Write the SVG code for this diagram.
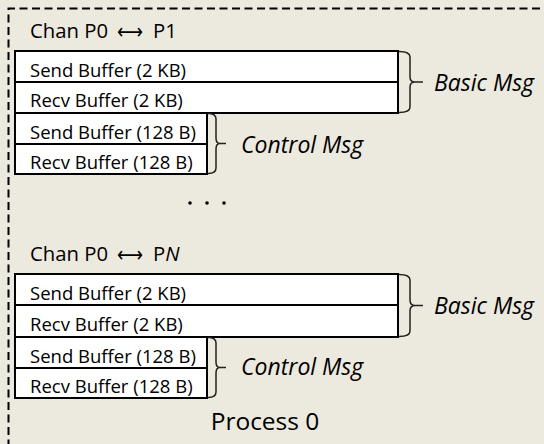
<svg xmlns="http://www.w3.org/2000/svg" width="544" height="444" viewBox="0 0 544 444">
<style>
.bg{fill:#ECE9DF}
.frame{fill:none;stroke:#000;stroke-width:2;stroke-dasharray:8,4.5}
.box{fill:#fff;stroke:#000;stroke-width:2}
.brace{fill:none;stroke:#222;stroke-width:1.5}
text{font-family:"Open Sans","Liberation Sans",sans-serif;fill:#000}
.buf{font-size:18.5px}
.chan{font-size:20.3px}
.arr{font-family:"DejaVu Sans",sans-serif;font-size:22px}
.lbl{font-size:23px;font-style:italic}
.proc{font-size:24.5px}
</style>
<rect x="0" y="0" width="544" height="444" class="bg"/>
<path class="frame" d="M8.5,460 V8.5 H560"/>
<g id="chan1">
<text class="chan" x="30" y="38">Chan P0</text>
<text class="arr" x="117" y="38.5" textLength="26" lengthAdjust="spacingAndGlyphs">⟷</text>
<text class="chan" x="153" y="38">P1</text>
</g>
<g id="basic1">
<rect class="box" x="15" y="51" width="383" height="31"/>
<rect class="box" x="15" y="82" width="383" height="31"/>
<text class="buf" x="30" y="76.5">Send Buffer (2 KB)</text>
<text class="buf" x="30" y="107">Recv Buffer (2 KB)</text>
</g>
<g id="control1">
<rect class="box" x="15" y="113" width="192" height="31"/>
<rect class="box" x="15" y="144" width="192" height="30"/>
<text class="buf" x="30" y="138.5">Send Buffer (128 B)</text>
<text class="buf" x="30" y="168.5">Recv Buffer (128 B)</text>
</g>
<g id="dots">
<circle cx="190" cy="203" r="1.8"/>
<circle cx="207" cy="203" r="1.8"/>
<circle cx="224" cy="203" r="1.8"/>
</g>
<g id="chanN">
<text class="chan" x="30" y="261">Chan P0</text>
<text class="arr" x="117" y="261.5" textLength="26" lengthAdjust="spacingAndGlyphs">⟷</text>
<text class="chan" x="153" y="261">P<tspan font-style="italic">N</tspan></text>
</g>
<g id="basicN">
<rect class="box" x="15" y="274" width="383" height="31"/>
<rect class="box" x="15" y="305" width="383" height="32"/>
<text class="buf" x="30" y="300">Send Buffer (2 KB)</text>
<text class="buf" x="30" y="331">Recv Buffer (2 KB)</text>
</g>
<g id="controlN">
<rect class="box" x="15" y="337" width="192" height="31"/>
<rect class="box" x="15" y="368" width="192" height="30"/>
<text class="buf" x="30" y="362.5">Send Buffer (128 B)</text>
<text class="buf" x="30" y="393">Recv Buffer (128 B)</text>
</g>
<g id="labels">
<text class="lbl" x="434" y="90.5">Basic Msg</text>
<text class="lbl" x="241" y="152.5">Control Msg</text>
<text class="lbl" x="434" y="313.5">Basic Msg</text>
<text class="lbl" x="241" y="375">Control Msg</text>
<text class="proc" x="265" y="430" text-anchor="middle">Process 0</text>
</g>
<g id="connectors">
<path class="brace" d="M399,51.5 Q410,51.5 410,57 V77 Q410,82 415,82 H423 M415,82 Q410,82 410,87 V107 Q410,112.5 399,112.5"/>
<path class="brace" d="M208,113.5 Q216,113.5 216,119 V138 Q216,143.5 220,143.5 H226 M220,143.5 Q216,143.5 216,149 V168 Q216,173.5 208,173.5"/>
<path class="brace" d="M399,274.5 Q410,274.5 410,280 V300 Q410,305.5 415,305.5 H423 M415,305.5 Q410,305.5 410,311 V331 Q410,336.5 399,336.5"/>
<path class="brace" d="M208,337.5 Q216,337.5 216,343 V362 Q216,367.5 220,367.5 H226 M220,367.5 Q216,367.5 216,373 V392 Q216,397.5 208,397.5"/>
</g>
</svg>
